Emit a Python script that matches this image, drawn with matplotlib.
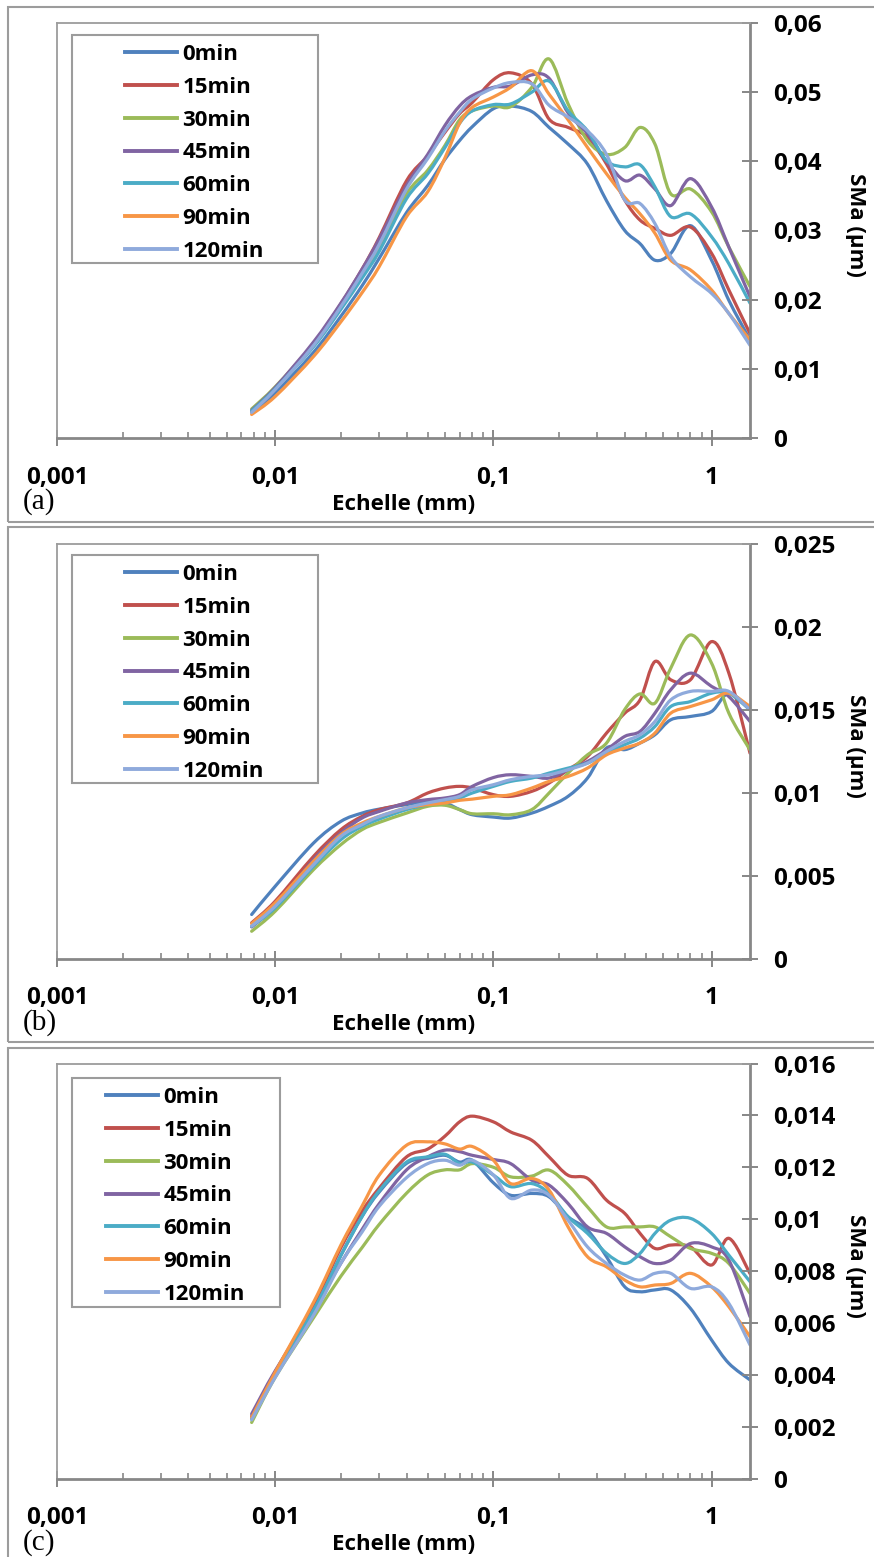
import numpy as np
import matplotlib
matplotlib.use('Agg')
import matplotlib.pyplot as plt
from matplotlib.patches import Rectangle, PathPatch
from matplotlib.path import Path
from matplotlib.lines import Line2D

plt.rcParams['font.family'] = ['Open Sans', 'DejaVu Sans']
plt.rcParams['font.weight'] = 'bold'

# ---- data (SMa values in units of 1e-3 µm) ----
series_names = ['0min', '15min', '30min', '45min', '60min', '90min', '120min']
series_colors = ['#4F81BD', '#C0504D', '#9BBB59', '#8064A2', '#4BACC6', '#F79646', '#8FAADC']

echelle = [0.0078, 0.01, 0.015, 0.02, 0.025, 0.03, 0.04, 0.05, 0.06, 0.07, 0.08, 0.1,
           0.12, 0.15, 0.18, 0.22, 0.27, 0.33, 0.4, 0.47, 0.55, 0.65, 0.8, 1.0, 1.2, 1.5]

sma_a = [
    [3.7, 6.5, 12.4, 17.6, 22.0, 26.0, 32.6, 36.5, 40.3, 43.0, 45.0, 47.6,
     48.0, 47.2, 44.9, 42.5, 39.6, 34.3, 30.0, 28.1, 25.7, 26.7, 30.7, 25.7, 19.9, 14.2],
    [3.8, 7.1, 13.7, 19.4, 24.4, 29.0, 37.2, 40.8, 44.2, 46.9, 48.5, 51.8,
     52.8, 51.2, 46.1, 44.9, 43.5, 39.6, 34.4, 31.5, 30.3, 29.3, 30.5, 26.7, 21.4, 15.1],
    [4.2, 7.4, 13.6, 19.0, 23.6, 27.6, 35.3, 38.7, 42.3, 46.0, 47.3, 48.0,
     47.9, 50.7, 54.8, 48.3, 43.0, 41.0, 42.0, 44.9, 42.5, 35.3, 36.0, 32.7, 27.6, 21.9],
    [4.0, 7.3, 13.9, 19.5, 24.4, 28.8, 36.5, 41.0, 45.2, 48.0, 49.5, 50.7,
     50.9, 52.5, 52.0, 47.0, 44.0, 40.0, 37.2, 38.0, 36.0, 33.6, 37.5, 33.4, 27.6, 20.4],
    [3.9, 7.1, 13.2, 18.6, 23.1, 27.0, 34.6, 38.2, 42.0, 45.5, 47.3, 48.2,
     48.3, 50.0, 51.6, 47.3, 44.4, 40.1, 39.2, 39.5, 36.3, 32.0, 32.4, 29.1, 25.2, 19.5],
    [3.4, 6.0, 11.8, 16.8, 21.0, 24.8, 32.0, 35.6, 40.5, 45.5, 47.8, 49.3,
     50.7, 53.1, 49.7, 46.0, 42.0, 38.2, 34.8, 32.4, 29.6, 25.7, 24.3, 21.4, 18.0, 14.2],
    [3.7, 7.0, 13.4, 19.0, 23.8, 28.0, 36.0, 40.4, 44.4, 47.1, 49.0, 50.6,
     51.4, 51.2, 48.1, 46.4, 44.4, 41.0, 34.4, 33.9, 31.0, 26.2, 23.3, 20.9, 18.0, 13.4],
]

sma_b = [
    [2.65, 4.35, 6.96, 8.26, 8.76, 9.0, 9.27, 9.47, 9.37, 8.97, 8.66, 8.52,
     8.46, 8.76, 9.17, 9.77, 10.87, 12.68, 12.58, 12.98, 13.48, 14.38, 14.58, 14.88, 15.98, 14.98],
    [2.15, 3.45, 6.16, 7.76, 8.56, 8.97, 9.37, 9.97, 10.27, 10.37, 10.27, 9.87,
     9.77, 10.07, 10.57, 11.37, 12.17, 13.58, 14.78, 15.58, 17.89, 16.79, 16.79, 19.09, 17.19, 12.37],
    [1.64, 2.85, 5.36, 6.86, 7.76, 8.2, 8.76, 9.17, 9.23, 8.97, 8.72, 8.72,
     8.66, 8.97, 9.97, 11.17, 12.27, 12.98, 15.0, 15.94, 15.38, 17.49, 19.49, 17.79, 14.78, 12.57],
    [1.9, 3.15, 5.96, 7.56, 8.46, 8.86, 9.37, 9.57, 9.67, 9.87, 10.37, 10.9,
     11.07, 10.97, 10.87, 11.37, 11.87, 12.58, 13.38, 13.68, 14.78, 16.19, 17.19, 16.39, 15.78, 14.28],
    [1.95, 3.05, 5.56, 7.16, 7.96, 8.4, 8.97, 9.27, 9.47, 9.67, 9.97, 10.37,
     10.67, 10.87, 11.17, 11.47, 11.77, 12.37, 12.88, 13.28, 13.98, 15.18, 15.48, 15.98, 15.98, 14.98],
    [2.1, 3.35, 5.86, 7.46, 8.16, 8.56, 9.07, 9.27, 9.37, 9.53, 9.6, 9.77,
     9.87, 10.27, 10.67, 10.97, 11.47, 12.27, 12.68, 12.98, 13.58, 14.78, 15.18, 15.58, 15.98, 15.18],
    [1.95, 3.15, 5.66, 7.36, 8.06, 8.56, 9.07, 9.37, 9.57, 9.77, 10.17, 10.47,
     10.77, 10.97, 11.07, 11.37, 11.77, 12.48, 13.08, 13.48, 14.28, 15.58, 16.09, 16.09, 16.09, 14.98],
]

sma_c = [
    [2.3, 4.0, 6.5, 8.6, 10.1, 11.05, 12.15, 12.34, 12.46, 12.2, 12.27, 11.4,
     10.92, 10.99, 10.86, 10.09, 9.58, 8.55, 7.39, 7.2, 7.27, 7.27, 6.56, 5.34, 4.44, 3.8],
    [2.4, 4.1, 6.7, 8.9, 10.3, 11.2, 12.4, 12.7, 13.2, 13.75, 13.97, 13.75,
     13.36, 13.04, 12.4, 11.69, 11.57, 10.73, 10.22, 9.45, 8.87, 9.0, 8.93, 8.23, 9.26, 7.9],
    [2.16, 3.9, 6.2, 7.8, 8.9, 9.8, 11.0, 11.7, 11.9, 11.9, 12.14, 12.0,
     11.63, 11.66, 11.89, 11.31, 10.47, 9.7, 9.7, 9.7, 9.7, 9.32, 8.87, 8.68, 8.29, 7.14],
    [2.49, 4.15, 6.5, 8.3, 9.6, 10.6, 11.9, 12.4, 12.66, 12.6, 12.46, 12.3,
     12.14, 11.5, 11.31, 10.6, 9.7, 9.45, 8.93, 8.55, 8.29, 8.42, 9.06, 8.93, 8.42, 6.24],
    [2.3, 4.0, 6.5, 8.6, 10.1, 11.1, 12.2, 12.4, 12.5, 12.14, 12.2, 11.7,
     11.25, 11.37, 10.99, 10.09, 9.45, 8.68, 8.29, 8.68, 9.45, 9.96, 10.03, 9.45, 8.61, 7.59],
    [2.35, 4.1, 6.8, 9.0, 10.5, 11.7, 12.85, 12.98, 12.9, 12.7, 12.8, 12.27,
     11.37, 11.57, 11.12, 9.7, 8.55, 8.16, 7.65, 7.39, 7.46, 7.52, 7.91, 7.39, 6.62, 5.47],
    [2.26, 3.9, 6.3, 8.3, 9.5, 10.5, 11.6, 12.14, 12.27, 12.08, 12.27, 11.7,
     10.8, 11.12, 10.92, 9.96, 8.93, 8.29, 7.84, 7.65, 7.91, 7.91, 7.33, 7.39, 6.75, 5.15],
]

x_ticks = [0.001, 0.01, 0.1, 1]
x_tick_labels = ['0,001', '0,01', '0,1', '1']

y_ticks_a = [0, 0.01, 0.02, 0.03, 0.04, 0.05, 0.06]
y_labels_a = ['0', '0,01', '0,02', '0,03', '0,04', '0,05', '0,06']
y_ticks_b = [0, 0.005, 0.01, 0.015, 0.02, 0.025]
y_labels_b = ['0', '0,005', '0,01', '0,015', '0,02', '0,025']
y_ticks_c = [0, 0.002, 0.004, 0.006, 0.008, 0.01, 0.012, 0.014, 0.016]
y_labels_c = ['0', '0,002', '0,004', '0,006', '0,008', '0,01', '0,012', '0,014', '0,016']

panel_tags = ['(a)', '(b)', '(c)']

# ---- layout (pixels) ----
W, H = 874, 1557
AX_L, AX_R = 57, 750
axis_color = '#878787'
frame_color = '#9C9C9C'
FS = 16
TICK_FS = 17.5

fig = plt.figure(figsize=(W / 100, H / 100), dpi=100)


def fx(px):
    return px / W


def fy(py):
    return 1 - py / H


minor_ticks = [k * 10.0 ** e for e in range(-3, 1) for k in range(2, 10) if k * 10.0 ** e < 1.5]


def smooth_path(xs, ys):
    # Excel style "smoothed line": cubic Bezier through the points,
    # control points taken in log-x space so the curve follows the axis scale
    pts = np.column_stack([np.log10(xs), ys])
    n = len(pts)
    verts = [pts[0]]
    codes = [Path.MOVETO]
    for i in range(n - 1):
        p0 = pts[i - 1] if i > 0 else pts[i]
        p1, p2 = pts[i], pts[i + 1]
        p3 = pts[i + 2] if i + 2 < n else pts[i + 1]
        verts += [p1 + (p2 - p0) / 6, p2 - (p3 - p1) / 6, p2]
        codes += [Path.CURVE4] * 3
    verts = np.array(verts)
    verts[:, 0] = 10 ** verts[:, 0]
    return Path(verts, codes)


def draw_panel(top, bottom, frame, values, yticks, ylabels, tag, leg_box, leg_x):
    # outer frame around the panel
    fig.patches.append(Rectangle((fx(frame[0]), fy(frame[3])), fx(frame[2] - frame[0]),
                                 (frame[3] - frame[1]) / H, transform=fig.transFigure,
                                 fill=False, edgecolor=frame_color, lw=1.5))

    ax = fig.add_axes([fx(AX_L), fy(bottom), fx(AX_R - AX_L), (bottom - top) / H])
    handles = []
    for vals, name, col in zip(values, series_names, series_colors):
        path = smooth_path(np.array(echelle), np.array(vals) * 1e-3)
        ax.add_patch(PathPatch(path, fill=False, edgecolor=col, lw=2.3,
                               capstyle='round', joinstyle='round'))
        handles.append(Line2D([], [], color=col, lw=2.8, label=name))

    ax.set_xscale('log')
    ax.set_xlim(0.001, 1.5)
    ax.set_ylim(yticks[0], yticks[-1])

    ax.set_xticks(x_ticks)
    ax.set_xticklabels(x_tick_labels)
    ax.set_xticks(minor_ticks, minor=True)
    ax.xaxis.set_minor_formatter(plt.NullFormatter())
    ax.yaxis.tick_right()
    ax.set_yticks(yticks)
    ax.set_yticklabels(ylabels)

    ax.tick_params(axis='x', which='major', direction='inout', length=12, width=1.4,
                   color=axis_color, labelsize=TICK_FS, pad=14)
    ax.tick_params(axis='x', which='minor', direction='in', length=4.5, width=1.2,
                   color=axis_color)
    ax.tick_params(axis='y', which='major', direction='inout', length=11, width=1.4,
                   color=axis_color, labelsize=TICK_FS, pad=11, right=True, left=False)

    for s in ['top', 'left']:
        ax.spines[s].set_color(frame_color)
        ax.spines[s].set_linewidth(1.3)
    for s in ['bottom', 'right']:
        ax.spines[s].set_color(axis_color)
        ax.spines[s].set_linewidth(2)

    ax.set_xlabel('Echelle (mm)', fontsize=FS, fontweight='bold', va='center')
    ax.xaxis.set_label_coords(0.5, -66 / (bottom - top))
    ax.yaxis.set_label_position('right')
    ax.set_ylabel('SMa (µm)', fontsize=FS, fontweight='bold', rotation=270,
                  va='center', ha='center')
    ax.yaxis.set_label_coords((856 - AX_L) / (AX_R - AX_L), 0.513)

    # legend
    lx0, ly0, lx1, ly1 = leg_box
    ax.add_patch(Rectangle(((lx0 - AX_L) / (AX_R - AX_L), (bottom - ly1) / (bottom - top)),
                           (lx1 - lx0) / (AX_R - AX_L), (ly1 - ly0) / (bottom - top),
                           transform=ax.transAxes, facecolor='white', edgecolor=frame_color,
                           lw=1.5, clip_on=False, zorder=4))
    row_top = ly0 + 20 - 11
    leg = ax.legend(handles=handles, loc='upper left',
                    bbox_to_anchor=((leg_x - AX_L) / (AX_R - AX_L), (bottom - row_top) / (bottom - top)),
                    frameon=False, borderaxespad=0, borderpad=0, fontsize=FS,
                    handlelength=52 / 22.2, handletextpad=0.25, labelspacing=0.53)
    leg.set_zorder(5)

    fig.text(fx(23), fy(bottom + 64), tag, family='Liberation Serif', fontsize=21,
             fontweight='normal', ha='left', va='center')
    return ax


draw_panel(23, 438, (8, 7, 885, 522), sma_a, y_ticks_a, y_labels_a, panel_tags[0],
           (72, 35, 318, 263), 125)
draw_panel(543.5, 958.5, (8, 527, 885, 1042), sma_b, y_ticks_b, y_labels_b, panel_tags[1],
           (72, 555, 318, 783), 125)
draw_panel(1063.5, 1478.5, (8, 1048, 885, 1575), sma_c, y_ticks_c, y_labels_c, panel_tags[2],
           (72, 1078, 280, 1307), 106)

fig.savefig('out.png', dpi=100)
